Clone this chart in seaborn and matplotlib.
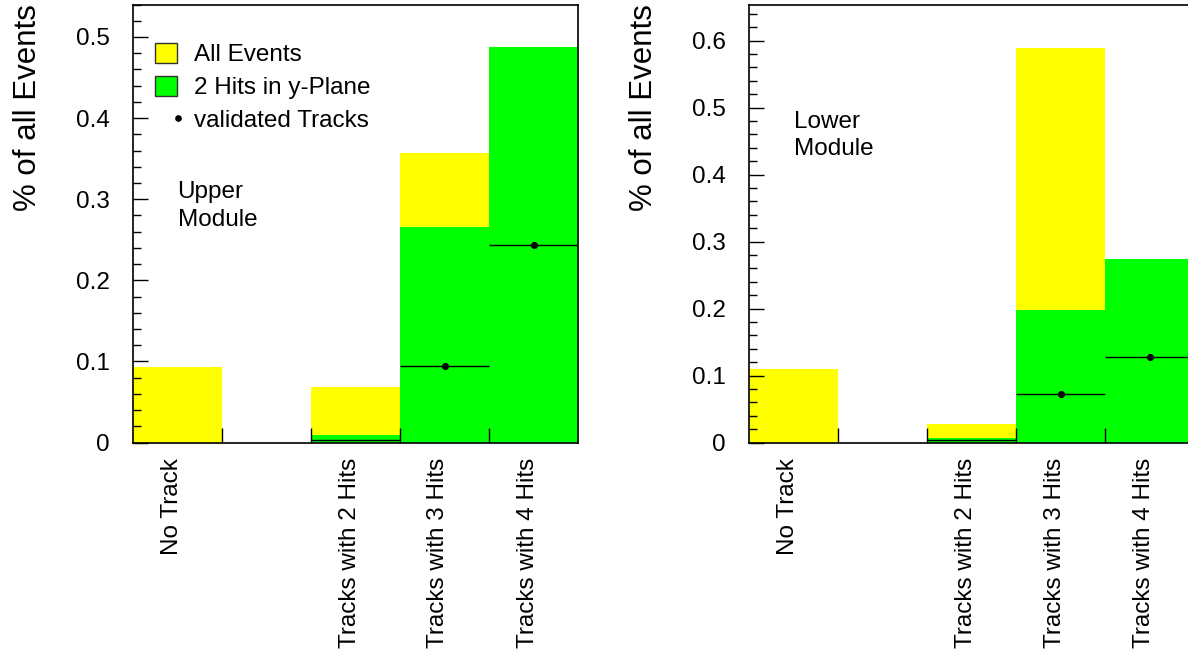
import numpy as np
import pandas as pd
import matplotlib
matplotlib.use("Agg")
import matplotlib.pyplot as plt
import seaborn as sns
import matplotlib.transforms as mtransforms
from matplotlib.patches import Patch
from matplotlib.lines import Line2D
from matplotlib.legend_handler import HandlerLine2D
from matplotlib.ticker import MultipleLocator, FuncFormatter, FixedLocator

# ---------------- data ----------------
categories = ["No Track", "", "Tracks with 2 Hits", "Tracks with 3 Hits", "Tracks with 4 Hits"]

upper_all = [0.0926, 0.0, 0.068, 0.357, 0.487]
upper_yplane = [0.0, 0.0, 0.009, 0.266, 0.487]
upper_validated = [0.0, 0.0, 0.0025, 0.094, 0.243]

lower_all = [0.110, 0.0, 0.028, 0.589, 0.274]
lower_yplane = [0.0, 0.0, 0.006, 0.1975, 0.274]
lower_validated = [0.0, 0.0, 0.0034, 0.072, 0.127]

panel_names = ["Upper\nModule", "Lower\nModule"]
legend_labels = ["All Events", "2 Hits in y-Plane", "validated Tracks"]
ylabel_text = "% of all Events"

# ---------------- style ----------------
YELLOW = "#FFFF00"
GREEN = "#00FF00"
FS = 17.5

sns.set_theme(style="white")
plt.rcParams["font.family"] = ["Liberation Sans", "DejaVu Sans"]
plt.rcParams["text.color"] = "black"
plt.rcParams["axes.labelcolor"] = "black"
plt.rcParams["xtick.color"] = "black"
plt.rcParams["ytick.color"] = "black"
plt.rcParams["axes.axisbelow"] = False

W, H = 1188, 655
fig = plt.figure(figsize=(W / 100, H / 100), dpi=100)
ax_w, ax_h = 445 / W, 438 / H
ax_b = (H - 442.5) / H
ax1 = fig.add_axes([133 / W, ax_b, ax_w, ax_h])
ax2 = fig.add_axes([749 / W, ax_b, ax_w, ax_h])


class RightDot(HandlerLine2D):
    def create_artists(self, legend, orig_handle, xdescent, ydescent,
                       width, height, fontsize, trans):
        return super().create_artists(legend, orig_handle, xdescent - 0.55 * width,
                                      ydescent, width, height, fontsize, trans)


def draw(ax, all_vals, yplane_vals, valid_vals, name, ytop, text_y):
    df = pd.DataFrame({"cat": categories, "all": all_vals, "yplane": yplane_vals})
    sns.barplot(data=df, x="cat", y="all", order=categories, color=YELLOW,
                saturation=1, width=1, linewidth=0, errorbar=None, ax=ax, zorder=1)
    sns.barplot(data=df, x="cat", y="yplane", order=categories, color=GREEN,
                saturation=1, width=1, linewidth=0, errorbar=None, ax=ax, zorder=1.5)
    ax.set_axisbelow(False)

    pos = np.arange(len(categories))
    v = np.asarray(valid_vals, dtype=float)
    m = v > 0
    ax.errorbar(pos[m], v[m], xerr=0.5, fmt="none", ecolor="black",
                elinewidth=1.0, capsize=0, zorder=3)
    mk = v > 0.01
    sns.scatterplot(x=pos[mk], y=v[mk], color="black", s=26, linewidth=0,
                    ax=ax, zorder=4, legend=False)

    ax.set_xlim(-0.5, len(categories) - 0.5)
    ax.set_ylim(0, ytop)

    # y axis
    ax.yaxis.set_major_locator(MultipleLocator(0.1))
    ax.yaxis.set_minor_locator(MultipleLocator(0.02))
    ax.yaxis.set_major_formatter(FuncFormatter(lambda val, p: "0" if abs(val) < 1e-9 else f"{val:.1f}"))
    ax.tick_params(axis="y", which="major", direction="in", length=10.8, width=1.0,
                   left=True, right=False, labelsize=FS, pad=16.5, color="black",
                   labelcolor="black")
    ax.tick_params(axis="y", which="minor", direction="in", length=5.6, width=1.0,
                   left=True, right=False, color="black")

    # x axis
    ax.set_xticks(pos)
    ax.set_xticklabels(categories, rotation=90, fontsize=FS, color="black")
    ax.tick_params(axis="x", which="major", length=0, pad=11.0, bottom=True)
    ax.xaxis.set_minor_locator(FixedLocator(pos[:-1] + 0.5))
    ax.tick_params(axis="x", which="minor", direction="in", length=10.8, width=1.0,
                   bottom=True, top=False, color="black")
    ax.set_xlabel("")
    shift = mtransforms.ScaledTranslation(-6 / 100, 0, fig.dpi_scale_trans)
    for lab in ax.get_xticklabels():
        lab.set_transform(lab.get_transform() + shift)

    ax.set_ylabel(ylabel_text, fontsize=22.5, loc="top", color="black")
    ax.yaxis.set_label_coords(-0.203, 1.0)

    for s in ax.spines.values():
        s.set_visible(True)
        s.set_color("black")
        s.set_linewidth(1.2)
        s.set_zorder(5)

    ax.text(0.0, text_y, name, ha="left", va="top", fontsize=FS,
            linespacing=1.32, color="black", zorder=5)


draw(ax1, upper_all, upper_yplane, upper_validated, panel_names[0], 0.54, 0.322)
draw(ax2, lower_all, lower_yplane, lower_validated, panel_names[1], 0.654, 0.495)

handles = [
    Patch(facecolor=YELLOW, edgecolor="#333333", linewidth=1.0),
    Patch(facecolor=GREEN, edgecolor="#333333", linewidth=1.0),
    Line2D([], [], marker="o", color="black", linestyle="none", markersize=3.8),
]
ax1.legend(handles, legend_labels, loc="upper left",
           bbox_to_anchor=(22 / 445, 1 - 38 / 438), frameon=False, fontsize=FS,
           handlelength=0.92, handleheight=0.9, handletextpad=0.7,
           labelspacing=0.40, borderpad=0, borderaxespad=0,
           handler_map={Line2D: RightDot()})

fig.savefig("out.png", dpi=100)
